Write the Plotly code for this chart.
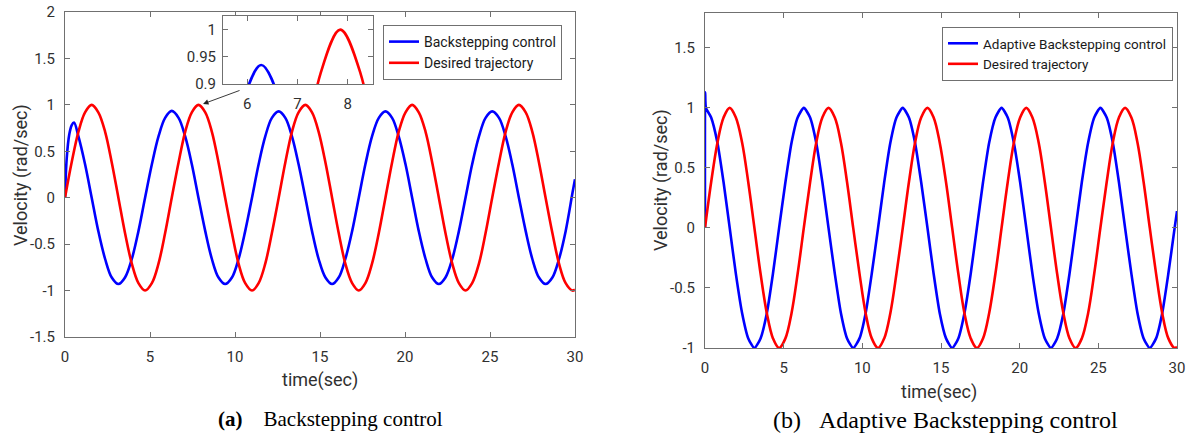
import plotly.graph_objects as go

# ---------------- data ----------------
time_grid = [0.00, 0.39, 0.79, 1.18, 1.57, 1.96, 2.36, 2.75, 3.14, 3.53, 3.93, 4.32, 4.71, 5.11, 5.50, 5.89,
             6.28, 6.68, 7.07, 7.46, 7.85, 8.25, 8.64, 9.03, 9.42, 9.82, 10.21, 10.60, 11.00, 11.39, 11.78, 12.17,
             12.57, 12.96, 13.35, 13.74, 14.14, 14.53, 14.92, 15.32, 15.71, 16.10, 16.49, 16.89, 17.28, 17.67, 18.06, 18.46,
             18.85, 19.24, 19.63, 20.03, 20.42, 20.81, 21.21, 21.60, 21.99, 22.38, 22.78, 23.17, 23.56, 23.95, 24.35, 24.74,
             25.13, 25.53, 25.92, 26.31, 26.70, 27.10, 27.49, 27.88, 28.27, 28.67, 29.06, 29.45, 29.85, 30.00]

desired_velocity = [0, 0.38, 0.71, 0.92, 1, 0.92, 0.71, 0.38, 0, -0.38, -0.71, -0.92, -1, -0.92, -0.71, -0.38,
                    0, 0.38, 0.71, 0.92, 1, 0.92, 0.71, 0.38, 0, -0.38, -0.71, -0.92, -1, -0.92, -0.71, -0.38,
                    0, 0.38, 0.71, 0.92, 1, 0.92, 0.71, 0.38, 0, -0.38, -0.71, -0.92, -1, -0.92, -0.71, -0.38,
                    0, 0.38, 0.71, 0.92, 1, 0.92, 0.71, 0.38, 0, -0.38, -0.71, -0.92, -1, -0.92, -0.71, -0.38,
                    0, 0.38, 0.71, 0.92, 1, 0.92, 0.71, 0.38, 0, -0.38, -0.71, -0.92, -1, -0.99]

# backstepping control response (panel a)
time_bs = [0.00, 0.10, 0.25, 0.39, 0.53, 0.79, 1.18, 1.57, 1.96, 2.36, 2.75, 3.14, 3.53, 3.93, 4.32, 4.71, 5.11, 5.50, 5.89,
           6.28, 6.68, 7.07, 7.46, 7.85, 8.25, 8.64, 9.03, 9.42, 9.82, 10.21, 10.60, 11.00, 11.39, 11.78, 12.17,
           12.57, 12.96, 13.35, 13.74, 14.14, 14.53, 14.92, 15.32, 15.71, 16.10, 16.49, 16.89, 17.28, 17.67, 18.06, 18.46,
           18.85, 19.24, 19.63, 20.03, 20.42, 20.81, 21.21, 21.60, 21.99, 22.38, 22.78, 23.17, 23.56, 23.95, 24.35, 24.74,
           25.13, 25.53, 25.92, 26.31, 26.70, 27.10, 27.49, 27.88, 28.27, 28.67, 29.06, 29.45, 29.85, 30.00]
velocity_bs = [0, 0.42, 0.68, 0.78, 0.81, 0.66, 0.36, 0, -0.36, -0.66, -0.86, -0.93, -0.86, -0.66, -0.36, 0, 0.36, 0.66, 0.86,
               0.935, 0.86, 0.66, 0.36, 0, -0.36, -0.66, -0.86, -0.93, -0.86, -0.66, -0.36, 0, 0.36, 0.66, 0.86,
               0.93, 0.86, 0.66, 0.36, 0, -0.36, -0.66, -0.86, -0.93, -0.86, -0.66, -0.36, 0, 0.36, 0.66, 0.86,
               0.93, 0.86, 0.66, 0.36, 0, -0.36, -0.66, -0.86, -0.93, -0.86, -0.66, -0.36, 0, 0.36, 0.66, 0.86,
               0.93, 0.86, 0.66, 0.36, 0, -0.36, -0.66, -0.86, -0.93, -0.86, -0.66, -0.36, 0.05, 0.20]

# adaptive backstepping control response (panel b)
time_abs = [0.00, 0.01, 0.06, 0.39, 0.79, 1.18, 1.57, 1.96, 2.36, 2.75, 3.14, 3.53, 3.93, 4.32, 4.71, 5.11, 5.50, 5.89,
            6.28, 6.68, 7.07, 7.46, 7.85, 8.25, 8.64, 9.03, 9.42, 9.82, 10.21, 10.60, 11.00, 11.39, 11.78, 12.17,
            12.57, 12.96, 13.35, 13.74, 14.14, 14.53, 14.92, 15.32, 15.71, 16.10, 16.49, 16.89, 17.28, 17.67, 18.06, 18.46,
            18.85, 19.24, 19.63, 20.03, 20.42, 20.81, 21.21, 21.60, 21.99, 22.38, 22.78, 23.17, 23.56, 23.95, 24.35, 24.74,
            25.13, 25.53, 25.92, 26.31, 26.70, 27.10, 27.49, 27.88, 28.27, 28.67, 29.06, 29.45, 29.85, 30.00]
velocity_abs = [0, 1.13, 1.0, 0.92, 0.71, 0.38, 0, -0.38, -0.71, -0.92, -1, -0.92, -0.71, -0.38, 0, 0.38, 0.71, 0.92,
                1, 0.92, 0.71, 0.38, 0, -0.38, -0.71, -0.92, -1, -0.92, -0.71, -0.38, 0, 0.38, 0.71, 0.92,
                1, 0.92, 0.71, 0.38, 0, -0.38, -0.71, -0.92, -1, -0.92, -0.71, -0.38, 0, 0.38, 0.71, 0.92,
                1, 0.92, 0.71, 0.38, 0, -0.38, -0.71, -0.92, -1, -0.92, -0.71, -0.38, 0, 0.38, 0.71, 0.92,
                1, 0.92, 0.71, 0.38, 0, -0.38, -0.71, -0.92, -1, -0.92, -0.71, -0.38, 0, 0.14]

x_ticks = [0, 5, 10, 15, 20, 25, 30]
y_ticks_a = [-1.5, -1, -0.5, 0, 0.5, 1, 1.5, 2]
y_ticks_b = [-1, -0.5, 0, 0.5, 1, 1.5]
inset_x_ticks = [6, 7, 8]
inset_y_ticks = [0.9, 0.95, 1]

# ---------------- layout helpers ----------------
W, H = 1192, 436
def px(x):
    return x / W
def py(y):
    return 1 - y / H
def lbl(v):
    return "%g" % v   # plain hyphen minus like the original

BLUE = "#0000ff"
RED = "#ff0000"
FONT = "Roboto"
TXT = "#303030"
AXC = "#707070"
LW = 2.6
NB = "\u00a0"

fig = go.Figure()

# panel (a)
fig.add_trace(go.Scatter(x=time_bs, y=velocity_bs, mode="lines", name="Backstepping control",
                         line=dict(color=BLUE, width=LW, shape="spline"),
                         xaxis="x", yaxis="y", legend="legend"))
fig.add_trace(go.Scatter(x=time_grid, y=desired_velocity, mode="lines", name="Desired trajectory",
                         line=dict(color=RED, width=LW, shape="spline"),
                         xaxis="x", yaxis="y", legend="legend"))
# panel (b)
fig.add_trace(go.Scatter(x=time_abs, y=velocity_abs, mode="lines", name="Adaptive Backstepping control",
                         line=dict(color=BLUE, width=LW, shape="spline", smoothing=0.6),
                         xaxis="x2", yaxis="y2", legend="legend2"))
fig.add_trace(go.Scatter(x=time_grid, y=desired_velocity, mode="lines", name="Desired trajectory",
                         line=dict(color=RED, width=LW, shape="spline"),
                         xaxis="x2", yaxis="y2", legend="legend2"))
# inset of panel (a)
fig.add_trace(go.Scatter(x=time_bs, y=velocity_bs, mode="lines", showlegend=False,
                         line=dict(color=BLUE, width=LW, shape="spline"),
                         xaxis="x3", yaxis="y3"))
fig.add_trace(go.Scatter(x=time_grid, y=desired_velocity, mode="lines", showlegend=False,
                         line=dict(color=RED, width=LW, shape="spline"),
                         xaxis="x3", yaxis="y3"))

axis_common = dict(showgrid=False, zeroline=False, showline=True, linecolor=AXC, linewidth=1,
                   mirror="ticks", ticks="inside", ticklen=5, tickcolor=AXC, automargin=False,
                   tickfont=dict(family=FONT, size=15, color=TXT))

fig.update_layout(
    template="none",
    width=W, height=H,
    margin=dict(l=0, r=0, t=0, b=0, pad=0, autoexpand=False),
    paper_bgcolor="white", plot_bgcolor="white",
    font=dict(family=FONT, color=TXT),
    xaxis=dict(domain=[px(65), px(575)], range=[0, 30], tickvals=x_ticks,
               ticktext=[lbl(v) for v in x_ticks], anchor="y", ticklabelstandoff=6, **axis_common),
    yaxis=dict(domain=[py(337), py(12)], range=[-1.5, 2], tickvals=y_ticks_a,
               ticktext=[lbl(v) for v in y_ticks_a], anchor="x", ticklabelstandoff=6, **axis_common),
    xaxis2=dict(domain=[px(705), px(1177)], range=[0, 30], tickvals=x_ticks,
                ticktext=[lbl(v) for v in x_ticks], anchor="y2", ticklabelstandoff=6, **axis_common),
    yaxis2=dict(domain=[py(348), py(13)], range=[-1, 1.79], tickvals=y_ticks_b,
                ticktext=[lbl(v) for v in y_ticks_b], anchor="x2", ticklabelstandoff=6, **axis_common),
    xaxis3=dict(domain=[px(223), px(373)], range=[5.52, 8.5], tickvals=inset_x_ticks,
                ticktext=[lbl(v) for v in inset_x_ticks], anchor="y3", ticklabelstandoff=6, **axis_common),
    yaxis3=dict(domain=[py(84), py(16)], range=[0.9, 1.025], tickvals=inset_y_ticks,
                ticktext=[lbl(v) for v in inset_y_ticks], anchor="x3", ticklabelstandoff=3, **axis_common),
    legend=dict(x=px(383), y=py(25), xanchor="left", yanchor="top",
                bordercolor=AXC, borderwidth=1, bgcolor="white",
                font=dict(family=FONT, size=14, color="#1a1a1a"), itemwidth=30,
                tracegroupgap=0),
    legend2=dict(x=px(942), y=py(27), xanchor="left", yanchor="top",
                 bordercolor=AXC, borderwidth=1, bgcolor="white",
                 font=dict(family=FONT, size=13.5, color="#1a1a1a"), itemwidth=30,
                 tracegroupgap=0),
    showlegend=True,
)

def text_ann(text, x, y, size, family=FONT, color=TXT, angle=0):
    return dict(text=text, x=px(x), y=py(y), xref="paper", yref="paper",
                xanchor="center", yanchor="middle", showarrow=False, textangle=angle,
                font=dict(family=family, size=size, color=color))

ann = [
    text_ann("time(sec)", 320, 380, 18),
    text_ann("time(sec)", 939, 392, 18),
    text_ann("Velocity (rad/sec)", 21, 175, 18, angle=-90),
    text_ann("Velocity (rad/sec)", 661, 180, 18, angle=-90),
    text_ann("<b>(a)</b>" + NB * 4 + "Backstepping control", 331, 419, 21,
             family="Liberation Serif", color="black"),
    text_ann("(b)" + NB * 3 + "Adaptive Backstepping control", 945, 420, 24,
             family="Liberation Serif", color="black"),
    # arrow pointing to the zoomed peak
    dict(text="", x=8.12, y=1.01, xref="x", yref="y", ax=38, ay=-14,
         showarrow=True, arrowhead=2, arrowsize=1.2, arrowwidth=0.9, arrowcolor="#222"),
]
fig.update_layout(annotations=ann)

fig.write_html("out.html")
